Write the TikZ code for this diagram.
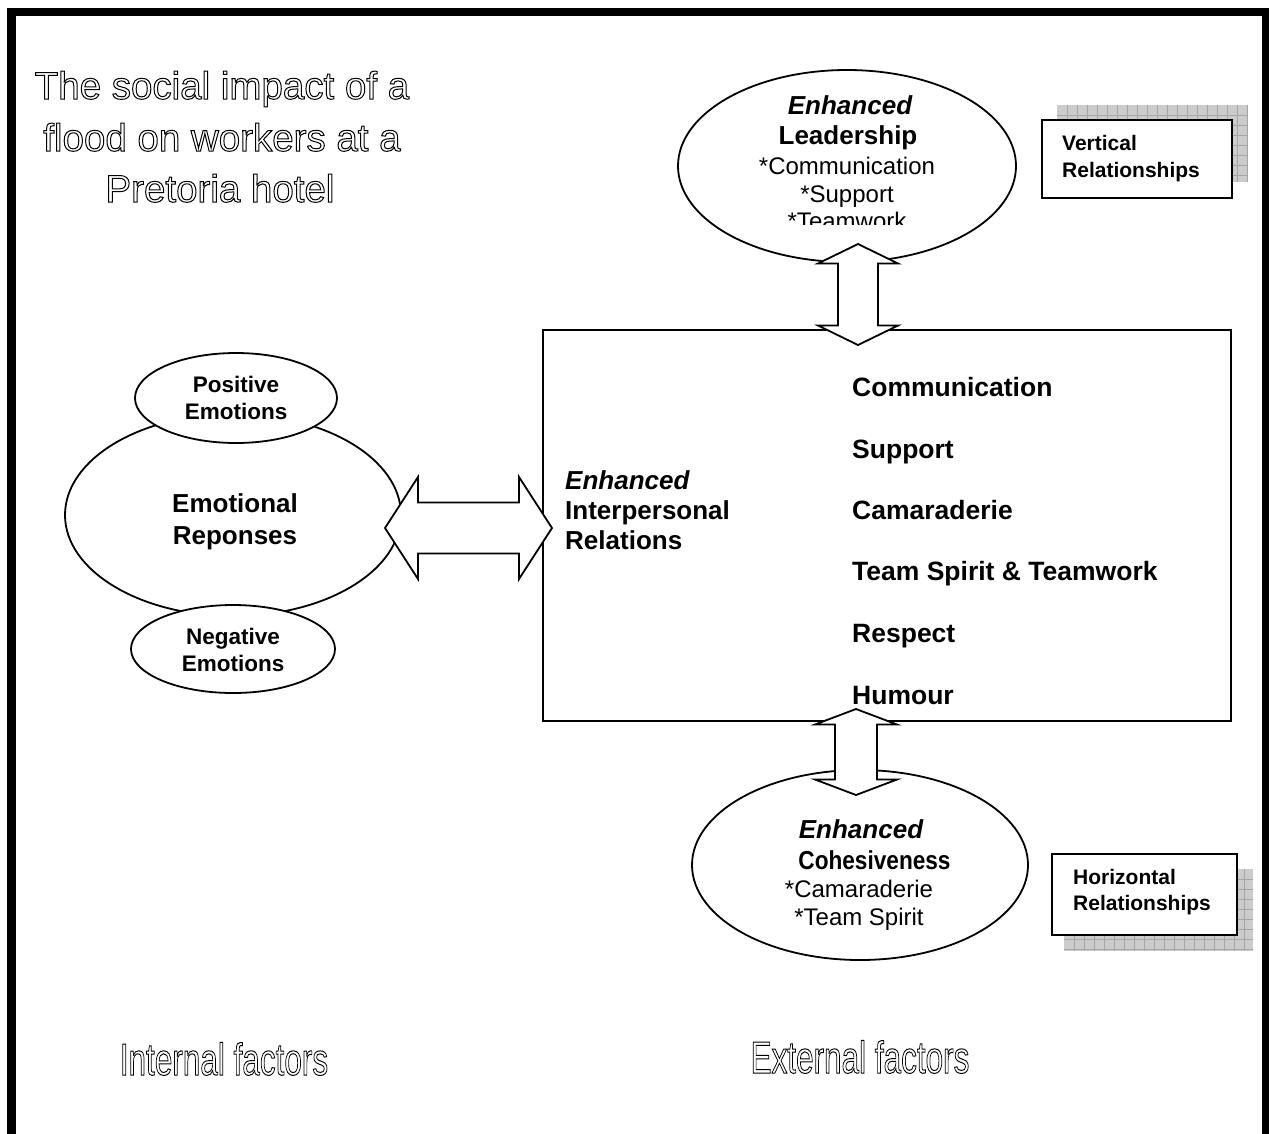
\documentclass[tikz,border=0pt]{standalone}
\usepackage{fontspec}
\setmainfont{Liberation Sans}
\usetikzlibrary{shapes.geometric,calc}

\newcommand\setfs[1]{\fontsize{#1}{#1}\selectfont}
% hollow (stroked-only) lettering
\newcommand\hollow[1]{\special{pdf:literal direct 1 Tr 1.0 w}#1\special{pdf:literal direct 0 Tr 0.4 w}}

% vertical block double arrow: top tip, bottom tip, head length, head half width, shaft half width
\newcommand\vblock[5]{%
  \draw[blockarrow] (#1) -- ($(#1)+(#4,#3)$) -- ($(#1)+(#5,#3)$) -- ($(#2)+(#5,-#3)$)
    -- ($(#2)+(#4,-#3)$) -- (#2) -- ($(#2)+(-#4,-#3)$) -- ($(#2)+(-#5,-#3)$)
    -- ($(#1)+(-#5,#3)$) -- ($(#1)+(-#4,#3)$) -- cycle;}
% horizontal block double arrow: left tip, right tip, head length, head half height, shaft half height
\newcommand\hblock[5]{%
  \draw[blockarrow] (#1) -- ($(#1)+(#3,-#4)$) -- ($(#1)+(#3,-#5)$) -- ($(#2)+(-#3,-#5)$)
    -- ($(#2)+(-#3,-#4)$) -- (#2) -- ($(#2)+(-#3,#4)$) -- ($(#2)+(-#3,#5)$)
    -- ($(#1)+(#3,#5)$) -- ($(#1)+(#3,#4)$) -- cycle;}

\tikzset{
  frameline/.style={line width=8.5},
  oval/.style={ellipse, draw, line width=1.8, fill=white, inner sep=0},
  panel/.style={rectangle, draw, line width=1.8, fill=white, inner sep=0},
  blockarrow/.style={draw, line width=1.8, fill=white, line join=miter},
  shade/.style={fill=gray!40},
  gridline/.style={draw=gray!70, line width=0.7},
  word/.style={anchor=base, inner sep=0},
  hd/.style={word, font=\setfs{26}\bfseries\itshape},
  bd/.style={word, font=\setfs{26}\bfseries},
  rg/.style={word, font=\setfs{24}},
  item/.style={word, anchor=base west, font=\setfs{26.5}\bfseries},
  sm/.style={word, font=\setfs{22.5}\bfseries},
  rel/.style={word, anchor=base west, font=\setfs{21}\bfseries},
  ttl/.style={word, font=\setfs{38.5}},
  fac/.style={word, font=\setfs{45}},
}

\begin{document}
\begin{tikzpicture}[x=1pt, y=-1pt]
\useasboundingbox (0,0) rectangle (1269,1133);

% outer frame (open at the bottom)
\draw[frameline] (11.5,1150) -- (11.5,12) -- (1266,12) -- (1266,1150);

% emotional responses cluster
\node[oval, minimum width=336, minimum height=202] (emo) at (233,515) {};
\node[oval, minimum width=202, minimum height=90] (pos) at (236,398) {};
\node[oval, minimum width=204, minimum height=88] (neg) at (233,649) {};

% central box
\node[panel, minimum width=688, minimum height=391] (main) at (887,525.5) {};

% leadership and cohesiveness ovals
\node[oval, minimum width=338, minimum height=192] (lead) at (847,166) {};
\node[oval, minimum width=336, minimum height=190] (coh) at (860,865) {};

% block arrows
\coordinate (upT) at (858,244);
\coordinate (upB) at (858,345);
\vblock{upT}{upB}{19.5}{40}{20}
\coordinate (loT) at (856,709);
\coordinate (loB) at (856,795);
\vblock{loT}{loB}{15.5}{41}{21}
\coordinate (hL) at (385,528);
\coordinate (hR) at (552,528);
\hblock{hL}{hR}{33}{51}{25.5}

% shadowed relationship labels
\fill[shade] (1057,105) rectangle (1248,182);
\foreach \gx in {1067,1077,...,1247} \draw[gridline] (\gx,105) -- (\gx,182);
\foreach \gy in {115,125,...,175} \draw[gridline] (1057,\gy) -- (1248,\gy);
\node[panel, minimum width=190, minimum height=78] (vert) at (1137,159) {};
\node[rel] (vert1) at (1062,150) {Vertical};
\node[rel] (vert2) at (1062,177) {Relationships};

\fill[shade] (1064,869) rectangle (1253,951);
\foreach \gx in {1074,1084,...,1252} \draw[gridline] (\gx,869) -- (\gx,951);
\foreach \gy in {879,889,...,949} \draw[gridline] (1064,\gy) -- (1253,\gy);
\node[panel, minimum width=185, minimum height=81] (horiz) at (1144.5,894.5) {};
\node[rel] (horiz1) at (1073,884) {Horizontal};
\node[rel] (horiz2) at (1073,910) {Relationships};

% text of the emotion ovals
\node[sm] (pos1) at (236,392) {Positive};
\node[sm] (pos2) at (236,419) {Emotions};
\node[bd] (emo1) at (235,512) {Emotional};
\node[bd] (emo2) at (235,544) {Reponses};
\node[sm] (neg1) at (233,644) {Negative};
\node[sm] (neg2) at (233,671) {Emotions};

% text of the leadership oval, cut off at the bottom
\begin{scope}
\clip (650,60) rectangle (1050,224);
\node[hd] (lead1) at (850,114) {Enhanced};
\node[bd] (lead2) at (848,144) {Leadership};
\node[rg] (lead3) at (847,174) {*Communication};
\node[rg] (lead4) at (847,202) {*Support};
\node[rg] (lead5) at (847,229) {*Teamwork};
\end{scope}

% text of the cohesiveness oval
\node[hd] (coh1) at (861,838) {Enhanced};
\node[bd] (coh2) at (874.5,869) {\scalebox{0.87}[1]{Cohesiveness}};
\node[rg] (coh3) at (859,897) {*Camaraderie};
\node[rg] (coh4) at (859,925) {*Team Spirit};

% text of the central box
\node[hd, anchor=base west] (ip1) at (565,489) {Enhanced};
\node[bd, anchor=base west] (ip2) at (565,519) {Interpersonal};
\node[bd, anchor=base west] (ip3) at (565,549) {Relations};
\node[item] (it1) at (852,396) {Communication};
\node[item] (it2) at (852,458) {Support};
\node[item] (it3) at (852,519) {Camaraderie};
\node[item] (it4) at (852,580) {Team Spirit \& Teamwork};
\node[item] (it5) at (852,642) {Respect};
\node[item] (it6) at (852,704) {Humour};

% hollow headings
\node[ttl] (title1) at (222,99) {\hollow{The social impact of a}};
\node[ttl] (title2) at (222,151) {\hollow{flood on workers at a}};
\node[ttl] (title3) at (220,202) {\hollow{Pretoria hotel}};
\node[fac] (internal) at (224,1075) {\scalebox{0.7}[1]{\hollow{Internal factors}}};
\node[fac] (external) at (860,1073) {\scalebox{0.7}[1]{\hollow{External factors}}};
\end{tikzpicture}
\end{document}
